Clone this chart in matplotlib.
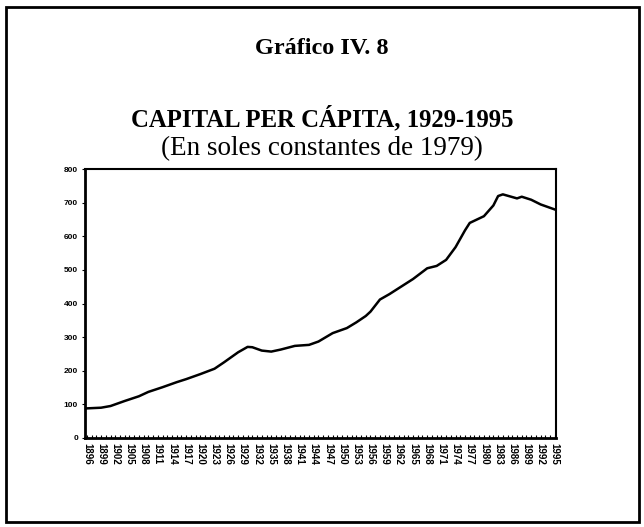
import matplotlib
matplotlib.use("Agg")
import matplotlib.pyplot as plt
from matplotlib.patches import Rectangle
import numpy as np

years = [1896, 1899, 1901, 1904, 1907, 1909, 1912, 1915, 1917, 1920, 1923, 1925,
         1928, 1930, 1931, 1933, 1935, 1937, 1940, 1943, 1945, 1948, 1951, 1953,
         1955, 1956, 1958, 1960, 1963, 1965, 1968, 1970, 1972, 1974, 1976, 1977,
         1980, 1982, 1983, 1984, 1987, 1988, 1990, 1992, 1995]
capital = [88, 90, 95, 110, 124, 137, 151, 166, 175, 190, 206, 225,
           255, 271, 270, 260, 257, 263, 274, 277, 287, 312, 327, 344,
           363, 376, 412, 428, 455, 473, 505, 512, 530, 568, 618, 640,
           660, 692, 720, 725, 713, 718, 709, 695, 680]
tick_years = list(range(1896, 1996, 3))
y_ticks = [0, 100, 200, 300, 400, 500, 600, 700, 800]

fig = plt.figure(figsize=(6.44, 5.27), dpi=100)

# outer frame
fig.patches.append(Rectangle((0.009, 0.009), 0.984, 0.978, transform=fig.transFigure,
                             fill=False, edgecolor="black", linewidth=2))

serif = ["Liberation Serif", "DejaVu Serif"]
fig.text(0.5, 0.908, "Gráfico IV. 8", ha="center", va="center",
         fontsize=17.5, fontweight="bold", family=serif)
fig.text(0.5, 0.776, "CAPITAL PER CÁPITA, 1929-1995", ha="center", va="center",
         fontsize=17.8, fontweight="bold", family=serif)
fig.text(0.5, 0.718, "(En soles constantes de 1979)", ha="center", va="center",
         fontsize=19.5, family=serif)

ax = fig.add_axes([0.132, 0.169, 0.731, 0.510])
ax.plot(years, capital, color="black", linewidth=1.8)
ax.set_xlim(1895.6, 1995.2)
ax.set_ylim(0, 800)
ax.set_yticks(y_ticks)
ax.set_yticklabels([str(v) for v in y_ticks], fontsize=6, fontweight="bold",
                   family=["Liberation Sans Narrow", "Liberation Sans", "DejaVu Sans"])
ax.set_xticks(tick_years)
ax.set_xticklabels([str(y) for y in tick_years], rotation=-90, fontsize=7,
                   fontweight="bold", family=["Liberation Sans Narrow", "Liberation Sans", "DejaVu Sans"])
ax.set_xticks(range(1896, 1996), minor=True)
ax.tick_params(axis="x", which="both", direction="in", length=2, width=0.8, pad=4)
ax.tick_params(axis="y", direction="out", length=2, width=0.8, pad=3)
for s in ["left", "bottom"]:
    ax.spines[s].set_linewidth(2)
for s in ["top", "right"]:
    ax.spines[s].set_linewidth(1.5)

fig.savefig("out.png", dpi=100)
